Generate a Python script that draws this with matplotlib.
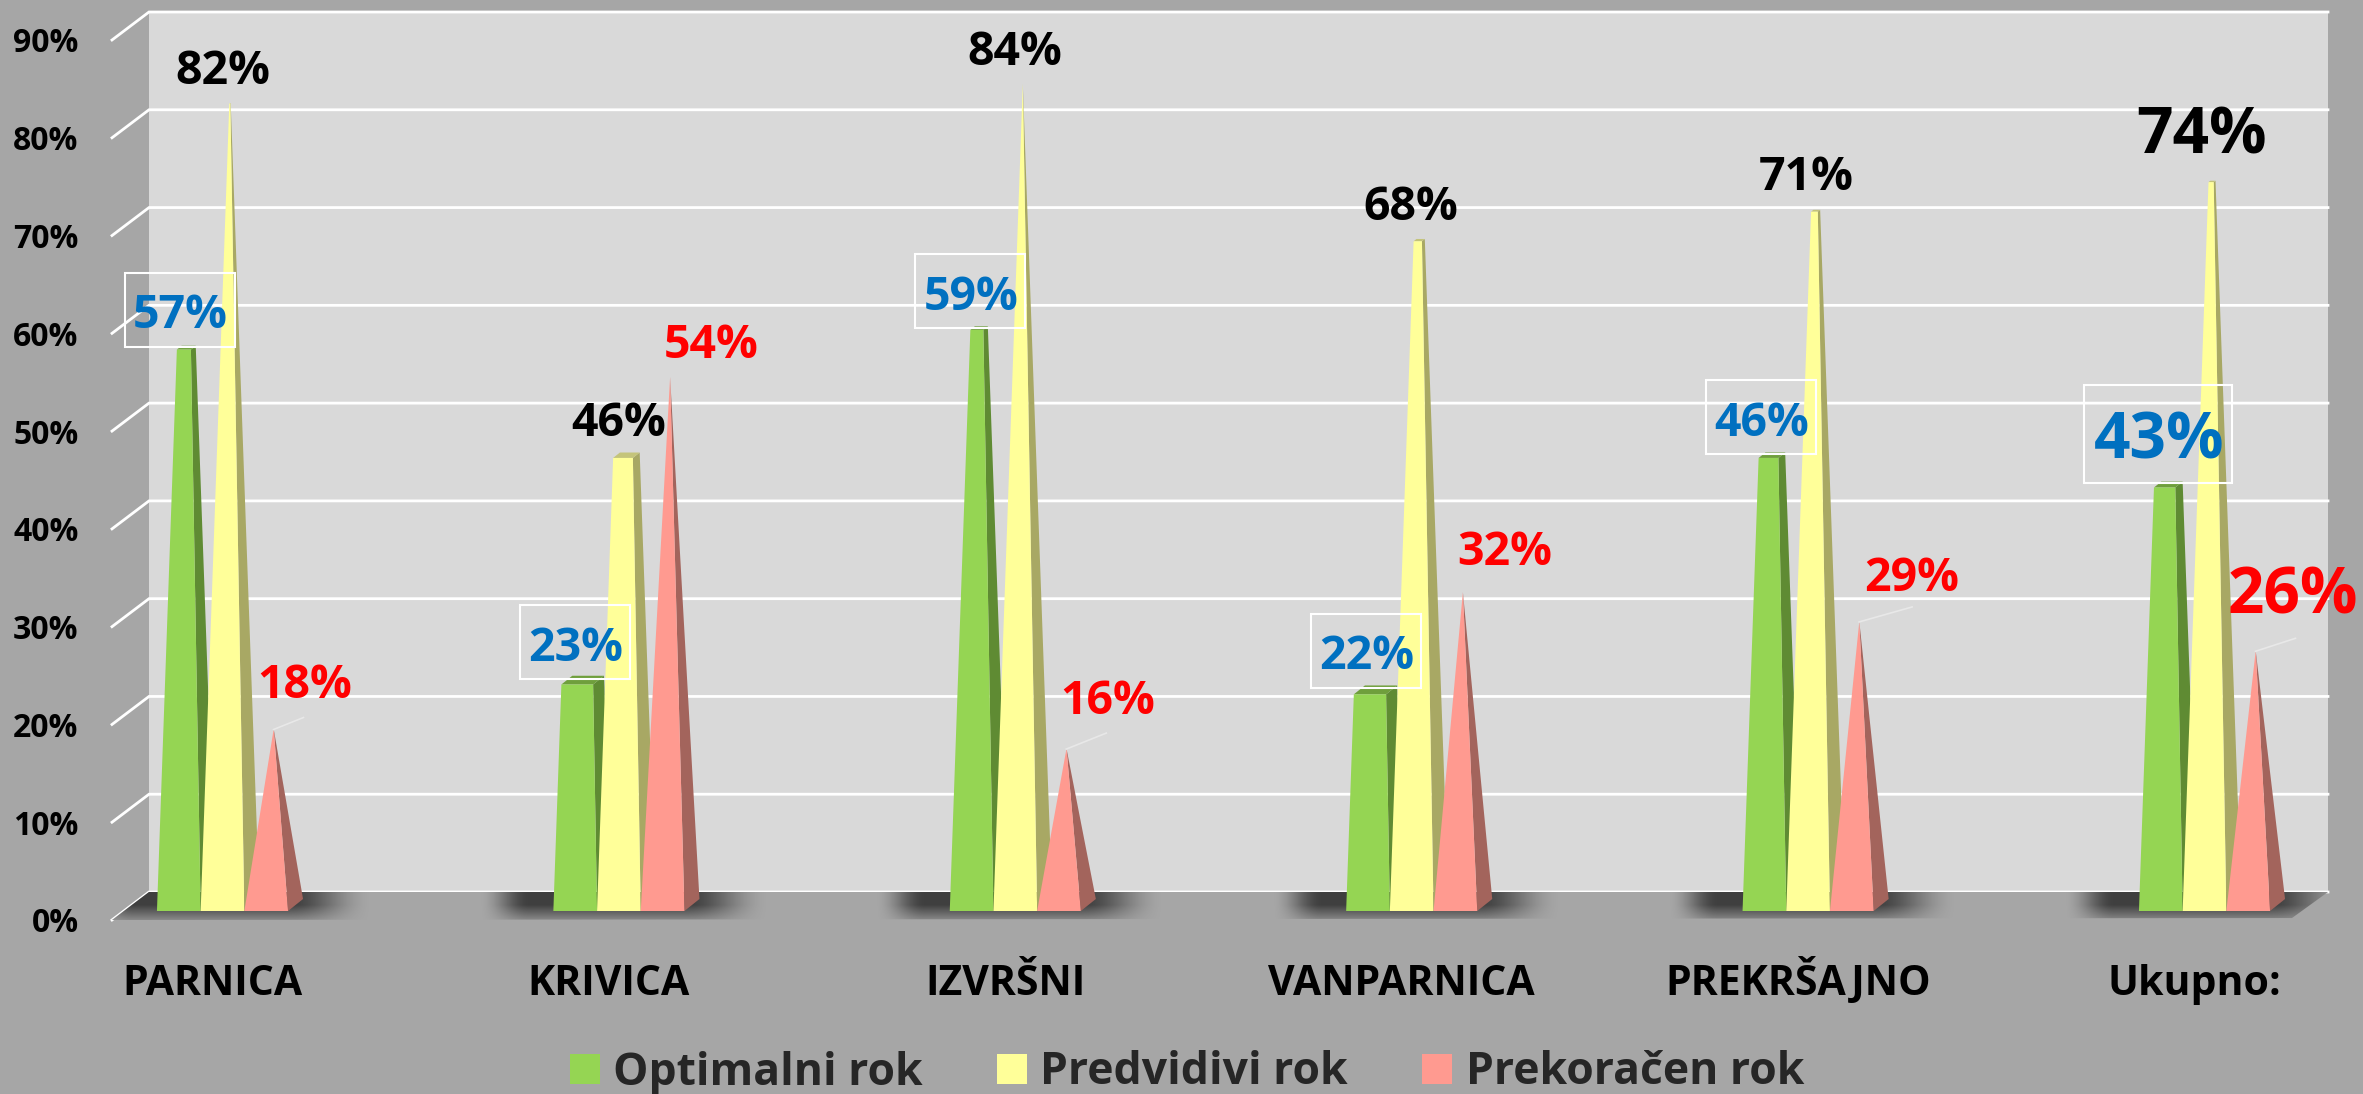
import numpy as np
import matplotlib
matplotlib.use('Agg')
import matplotlib.pyplot as plt
from matplotlib.patches import Polygon, Patch, Rectangle

categories = ['PARNICA', 'KRIVICA', 'IZVRŠNI', 'VANPARNICA', 'PREKRŠAJNO', 'Ukupno:']
optimalni = [57, 23, 59, 22, 46, 43]
predvidivi = [82, 46, 84, 68, 71, 74]
prekoracen = [18, 54, 16, 32, 29, 26]
series_names = ['Optimalni rok', 'Predvidivi rok', 'Prekoračen rok']
y_ticks = [0, 10, 20, 30, 40, 50, 60, 70, 80, 90]

# label offsets from group centre / value, in pixels
blue_off = [(-43, 53), (-44, 53), (-45, 52), (-46, 54), (-47, 53), (-46, 66)]
black_off = [(0, 47), (0, 47), (-1, 46), (-1, 48), (-2, 48), (-3, 59)]
red_off = [(82, 59), (92, 47), (92, 62), (93, 55), (104, 58), (88, 69)]
leaders = {0: (30, 12), 2: (40, 16), 4: (53, 15), 5: (40, 13)}

W, H = 2363, 1094
SX = 396.4   # px per category
SY = 9.78    # px per percent
BG = '#A6A6A6'
plt.rcParams['font.family'] = ['Open Sans', 'DejaVu Sans']
plt.rcParams['font.weight'] = 'bold'

fig = plt.figure(figsize=(W / 100, H / 100), dpi=100, facecolor=BG)
# axes is the front plane of the 3d box
ax = fig.add_axes([112 / W, 1 - 920 / H, (2292 - 112) / W, 880 / H])
ax.set_xlim((112 - 222.5) / SX, (2292 - 222.5) / SX)
ax.set_ylim(0, 90)
ax.patch.set_visible(False)
for s in ax.spines.values():
    s.set_visible(False)

xmin, xmax = ax.get_xlim()
wall_dx, wall_dy = 37 / SX, 28 / SY
wall_right = xmax + 36 / SX

ax.add_patch(Polygon([(xmin + wall_dx, wall_dy), (wall_right, wall_dy), (wall_right, 90 + wall_dy), (xmin + wall_dx, 90 + wall_dy)],
                     fc='#D9D9D9', ec='none', clip_on=False, zorder=0))
for t in y_ticks:
    ax.plot([xmin, xmin + wall_dx, wall_right], [t, t + wall_dy, t + wall_dy], color='white', lw=2, clip_on=False, zorder=1, solid_joinstyle='miter')

floor = Polygon([(xmin + wall_dx, wall_dy), (wall_right, wall_dy), (xmax, 0.2), (xmin, 0)], fc=BG, ec='none', clip_on=False, zorder=2)
ax.add_patch(floor)

# soft shadows under each group
prof_x = np.linspace(-140, 150, 200)
left = np.clip((prof_x + 140) / 50, 0, 1)
right = np.clip((150 - prof_x) / 85, 0, 1)
alpha_x = (left * left * (3 - 2 * left)) * (right * right * (3 - 2 * right))
alpha_y = np.clip(np.linspace(1.6, 0.3, 30), 0, 1)
shadow = np.zeros((30, 200, 4))
shadow[..., :3] = 0.25
shadow[..., 3] = np.outer(alpha_y, alpha_x)
for i in range(len(categories)):
    im = ax.imshow(shadow, extent=(i - 140 / SX, i + 150 / SX, 0, wall_dy), origin='upper', aspect='auto', zorder=3, interpolation='bilinear')
    im.set_clip_path(floor)
    im.set_clip_box(fig.bbox)
ax.set_xlim(xmin, xmax)
ax.set_ylim(0, 90)

BW = 43.7 / SX
DX, DY = 15 / SX, 12 / SY
BASE = 9 / SY


def pyramid(x0, v, apex, front, side, top, z):
    # x0 = front left corner, apex = height where the sides would meet
    fl = np.array([x0, BASE])
    fr = np.array([x0 + BW, BASE])
    br = np.array([x0 + BW + DX, BASE + DY])
    bl = np.array([x0 + DX, BASE + DY])
    tip = np.array([x0 + (BW + DX) / 2, BASE + DY / 2 + apex])
    t = v / apex
    cut = lambda p: p + t * (tip - p)
    ax.add_patch(Polygon([fr, br, cut(br), cut(fr)], fc=side, ec='none', clip_on=False, zorder=z))
    ax.add_patch(Polygon([cut(fl), cut(fr), cut(br), cut(bl)], fc=top, ec='none', clip_on=False, zorder=z))
    ax.add_patch(Polygon([fl, fr, cut(fr), cut(fl)], fc=front, ec='none', clip_on=False, zorder=z))


top_apex = max(predvidivi)
for i in range(len(categories)):
    x0 = i - 1.5 * BW
    pyramid(x0, optimalni[i], top_apex, '#95D553', '#5F8B33', '#6F9F3C', 4)
    pyramid(x0 + BW, predvidivi[i], top_apex, '#FFFF99', '#A8A864', '#C4C47A', 4)
    pyramid(x0 + 2 * BW, prekoracen[i], prekoracen[i], '#FF9A90', '#A3645C', '#A3645C', 4)

for i in range(len(categories)):
    big = i == len(categories) - 1
    fs = 46 if big else 33.5
    ax.annotate(f'{predvidivi[i]}%', (i, predvidivi[i]), xytext=black_off[i], textcoords='offset pixels',
                ha='center', va='center', fontsize=fs, color='black', zorder=6, annotation_clip=False)
    bx, by = blue_off[i]
    ax.annotate(f'{optimalni[i]}%', (i, optimalni[i]), xytext=(bx + 1, by - (8 if big else 6)), textcoords='offset pixels',
                ha='center', va='center', fontsize=fs, color='#0070C0', zorder=6, annotation_clip=False)
    bw, bh = (148, 98) if big else (110, 74)
    ax.add_patch(Rectangle((i + (bx - bw / 2) / SX, optimalni[i] + (by - bh / 2) / SY), bw / SX, bh / SY,
                           fc='none', ec='white', lw=1.5, clip_on=False, zorder=6))
    ax.annotate(f'{prekoracen[i]}%', (i, prekoracen[i]), xytext=red_off[i], textcoords='offset pixels',
                ha='center', va='center', fontsize=fs, color='red', zorder=6, annotation_clip=False)
    if i in leaders:
        lx, ly = leaders[i]
        x1 = i + 51 / SX
        y1 = prekoracen[i] + 14.5 / SY
        ax.plot([x1, x1 + lx / SX], [y1, y1 + ly / SY], color='#E8E8E8', lw=1.2, zorder=5, clip_on=False)

ax.set_yticks(y_ticks)
ax.set_yticklabels([f'{t}%' for t in y_ticks], fontsize=23, color='black')
ax.set_xticks(np.arange(len(categories)) - 10 / SX)
ax.set_xticklabels(categories, fontsize=29.5, color='black', va='baseline')
ax.tick_params(axis='y', length=0, pad=24)
ax.tick_params(axis='x', length=0, pad=54)

handles = [Patch(fc=c, ec='none') for c in ['#95D553', '#FFFF99', '#FF9A90']]
fig.legend(handles, series_names, ncol=3, frameon=False, loc='center', bbox_to_anchor=(1187 / W, 1 - 1073 / H),
           prop={'size': 32, 'weight': 'bold'}, labelcolor='#262626', handlelength=0.675, handleheight=0.675,
           handletextpad=0.30, columnspacing=1.67, borderpad=0, borderaxespad=0)

fig.savefig('out.png', dpi=100, facecolor=BG)
